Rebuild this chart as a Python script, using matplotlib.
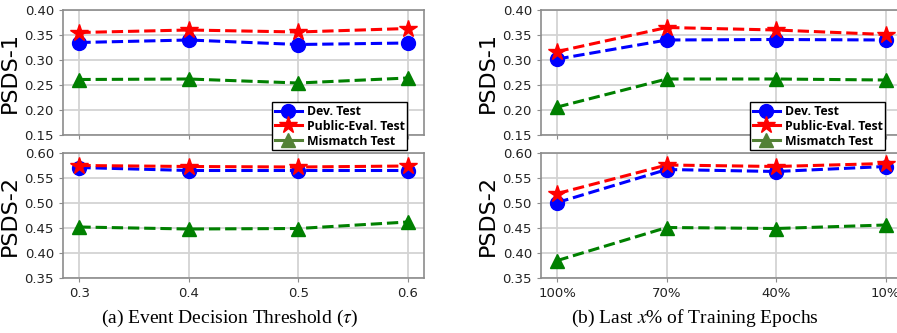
import matplotlib
matplotlib.use('Agg')
import matplotlib.pyplot as plt
from matplotlib.lines import Line2D

plt.rcParams['mathtext.fontset'] = 'stix'

# (a) event decision threshold
thr_labels = ['0.3', '0.4', '0.5', '0.6']
thr_psds1_dev = [0.335, 0.340, 0.331, 0.334]
thr_psds1_pub = [0.355, 0.360, 0.356, 0.363]
thr_psds1_mis = [0.261, 0.262, 0.254, 0.264]
thr_psds2_dev = [0.571, 0.565, 0.565, 0.565]
thr_psds2_pub = [0.575, 0.573, 0.572, 0.574]
thr_psds2_mis = [0.452, 0.448, 0.449, 0.462]

# (b) last x% of training epochs
ep_labels = ['100%', '70%', '40%', '10%']
ep_psds1_dev = [0.302, 0.340, 0.341, 0.340]
ep_psds1_pub = [0.317, 0.365, 0.360, 0.351]
ep_psds1_mis = [0.206, 0.262, 0.262, 0.260]
ep_psds2_dev = [0.501, 0.567, 0.563, 0.573]
ep_psds2_pub = [0.519, 0.576, 0.573, 0.579]
ep_psds2_mis = [0.385, 0.451, 0.449, 0.456]

series_names = ['Dev. Test', 'Public-Eval. Test', 'Mismatch Test']
colors = ['blue', 'red', 'green']
markers = ['o', '*', '^']
msizes = [10, 13, 10]
legend_colors = ['blue', 'red', '#538135']

fig = plt.figure(figsize=(8.97, 3.33), dpi=100)

W = 361 / 897
H = 125 / 333
panels = [
    (63 / 897, thr_labels, [thr_psds1_dev, thr_psds1_pub, thr_psds1_mis],
     [thr_psds2_dev, thr_psds2_pub, thr_psds2_mis]),
    (541 / 897, ep_labels, [ep_psds1_dev, ep_psds1_pub, ep_psds1_mis],
     [ep_psds2_dev, ep_psds2_pub, ep_psds2_mis]),
]


def style(ax, ylim, yticks):
    ax.set_ylim(*ylim)
    ax.set_yticks(yticks)
    ax.set_yticklabels(['%.2f' % t for t in yticks])
    ax.grid(True, color='#d3d3d3', linewidth=1.3)
    ax.set_axisbelow(True)
    for s in ax.spines.values():
        s.set_color('#8c8c8c')
        s.set_linewidth(1.2)
    ax.tick_params(labelsize=9.5, colors='#8c8c8c', labelcolor='#222222', length=3)


for left, labels, top_data, bot_data in panels:
    ax1 = fig.add_axes([left, (333 - 135) / 333, W, H])
    ax2 = fig.add_axes([left, (333 - 278) / 333, W, H])
    x = list(range(len(labels)))
    for ys, c, m, ms in zip(top_data, colors, markers, msizes):
        ax1.plot(x, ys, linestyle='--', color=c, marker=m, markersize=ms, linewidth=2.2)
    for ys, c, m, ms in zip(bot_data, colors, markers, msizes):
        ax2.plot(x, ys, linestyle='--', color=c, marker=m, markersize=ms, linewidth=2.2)
    style(ax1, (0.15, 0.40), [0.15, 0.20, 0.25, 0.30, 0.35, 0.40])
    style(ax2, (0.35, 0.60), [0.35, 0.40, 0.45, 0.50, 0.55, 0.60])
    for ax in (ax1, ax2):
        ax.set_xticks(x)
    ax1.set_xticklabels([])
    ax2.set_xticklabels(labels)
    ax1.set_ylabel('PSDS-1', fontsize=16, labelpad=3)
    ax2.set_ylabel('PSDS-2', fontsize=16, labelpad=3)

    handles = [Line2D([], [], color=c, marker=m, markersize=ms, linewidth=2.2)
               for c, m, ms in zip(legend_colors, markers, msizes)]
    lx = left + (407 - 63) / 897
    fig.legend(handles, series_names, loc='lower right', bbox_to_anchor=(lx, 1 - 150 / 333),
               fancybox=False, framealpha=1, edgecolor='black', handlelength=2.2,
               handletextpad=0.4, borderpad=0.2, labelspacing=0.15, borderaxespad=0,
               prop={'family': 'Open Sans', 'weight': 'bold', 'size': 8.8})

fig.text(230 / 897, 1 - 318 / 333, r'(a) Event Decision Threshold ($\tau$)',
         ha='center', va='center', fontsize=14, family='Liberation Serif')
fig.text(695 / 897, 1 - 318 / 333, r'(b) Last $x$% of Training Epochs',
         ha='center', va='center', fontsize=14, family='Liberation Serif')

fig.savefig('out.png', dpi=100)
